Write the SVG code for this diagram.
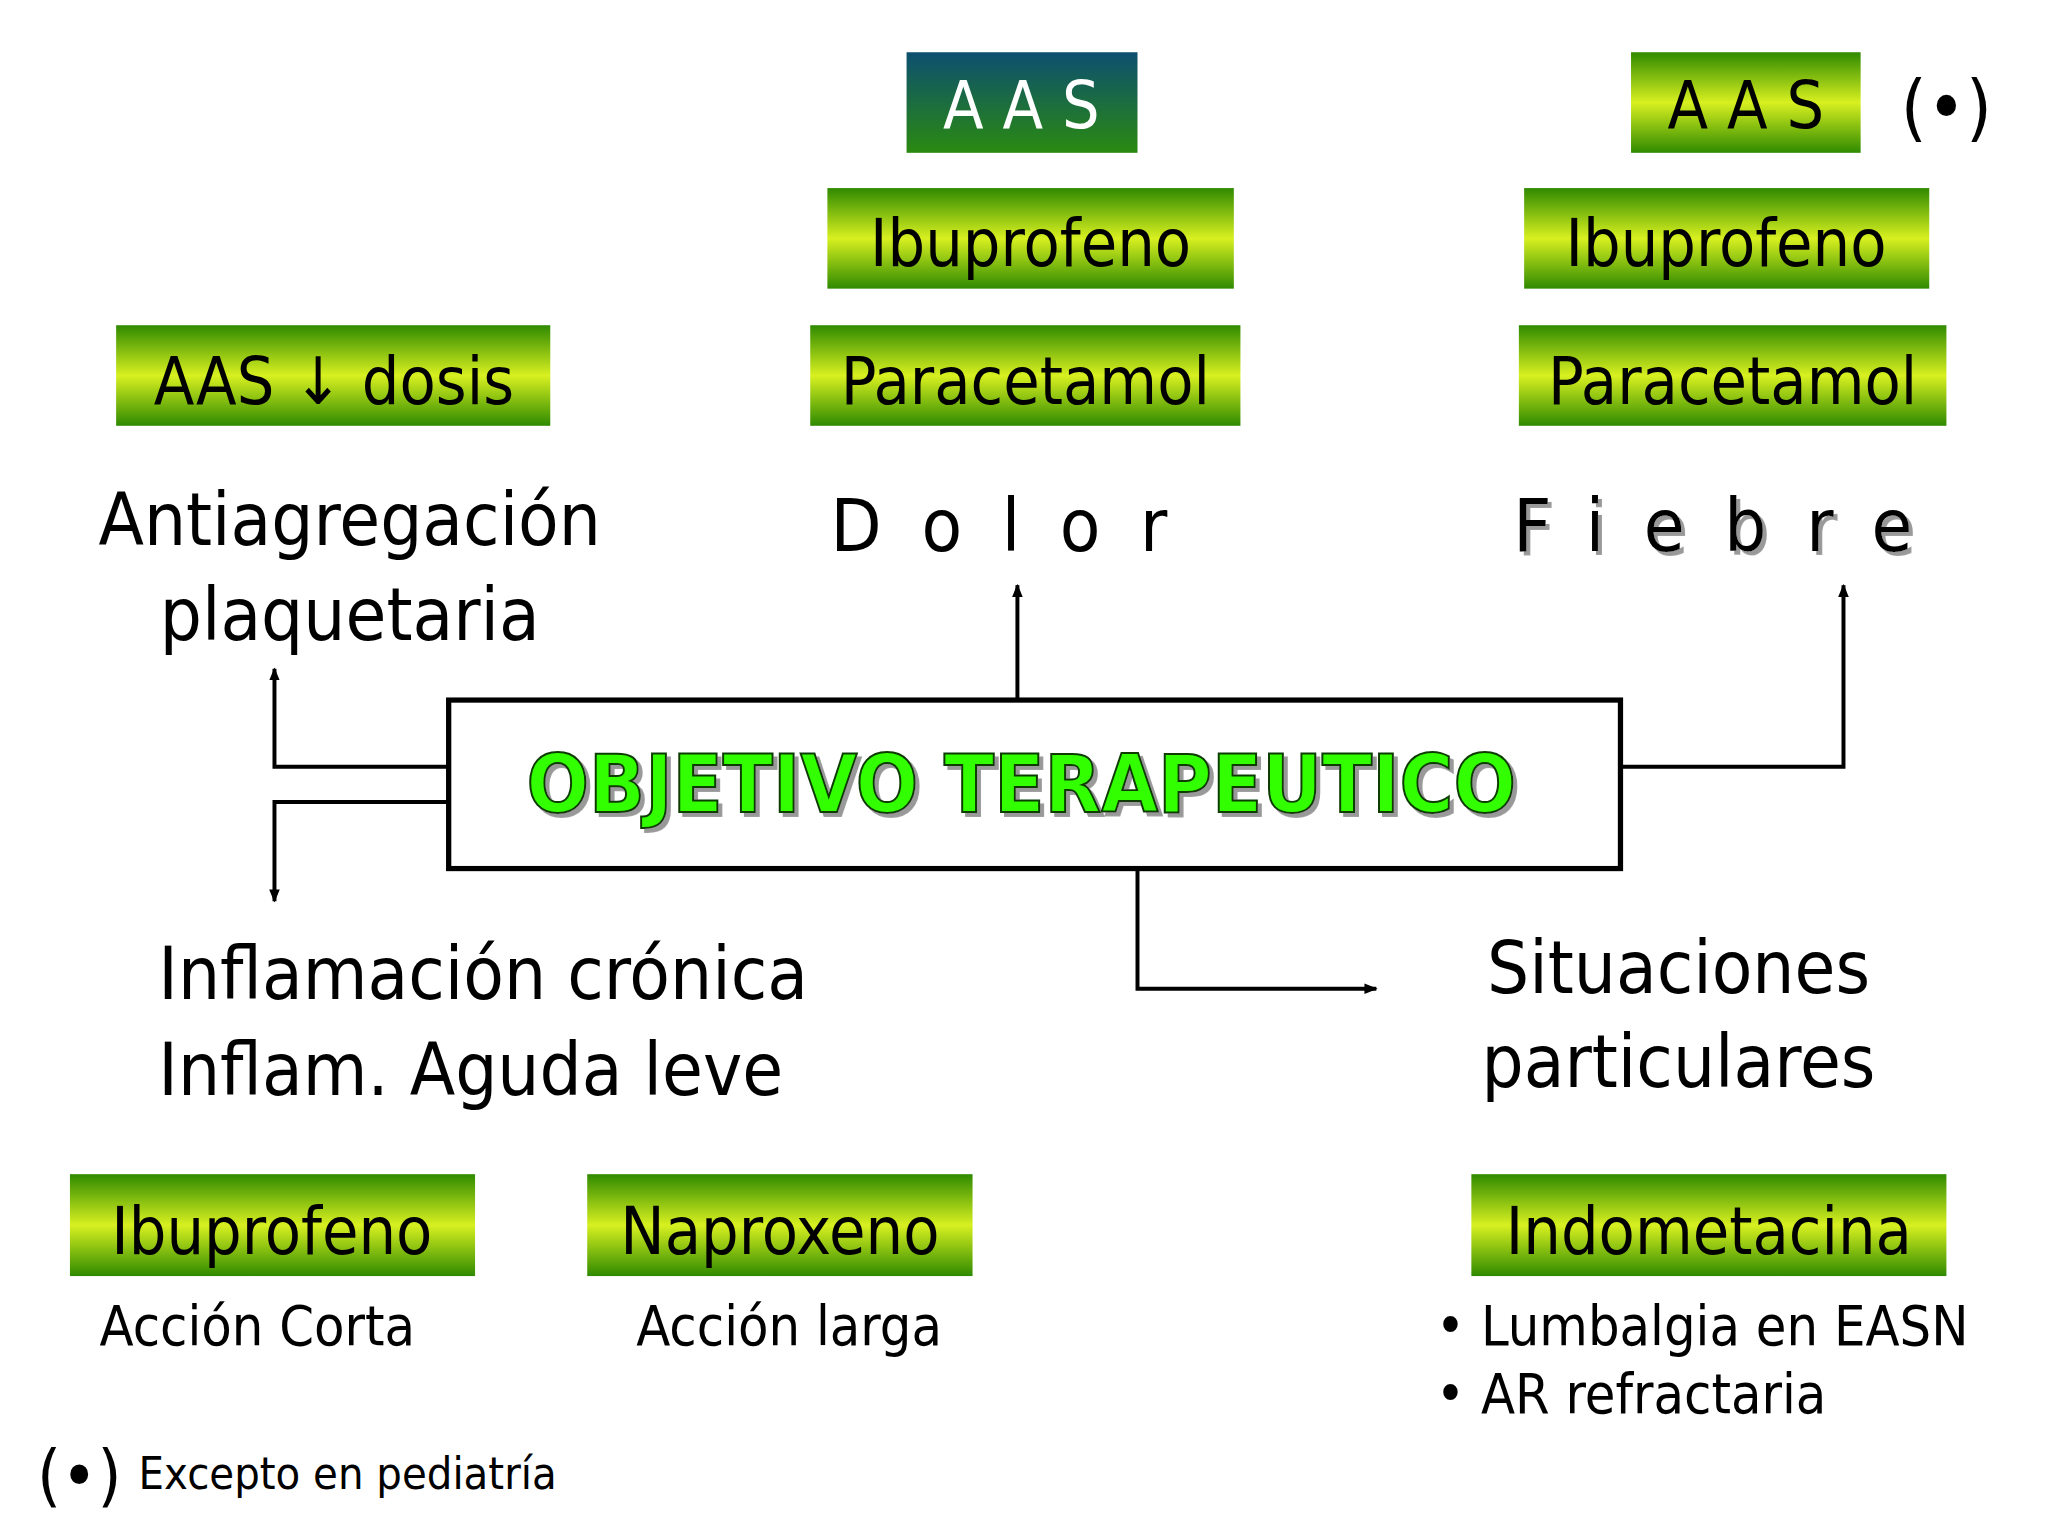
<svg xmlns="http://www.w3.org/2000/svg" width="2048" height="1536" viewBox="0 0 2048 1536">
<defs>
<linearGradient id="gg" x1="0" y1="0" x2="0" y2="1"><stop offset="0" stop-color="#2f8a00"/><stop offset="0.5" stop-color="#d8f020"/><stop offset="1" stop-color="#2f8a00"/></linearGradient>
<linearGradient id="gb" x1="0" y1="0" x2="0" y2="1"><stop offset="0" stop-color="#0d4f70"/><stop offset="1" stop-color="#2a8a10"/></linearGradient>
<marker id="ar" viewBox="0 0 10 10" refX="9" refY="5" markerWidth="10" markerHeight="10" markerUnits="userSpaceOnUse" orient="auto"><path d="M0,1 L10,5 L0,9 Z" fill="#000"/></marker>
<filter id="sh"><feDropShadow dx="3" dy="3" stdDeviation="0.5" flood-color="#999"/></filter>
</defs>
<style>
text{font-family:"DejaVu Sans Condensed","DejaVu Sans",sans-serif;fill:#000}
.bx{fill:url(#gg)}
.bt{font-size:50px;text-anchor:middle}
.lb{font-size:56px}
.c{fill:none;stroke:#000;stroke-width:3}
</style>
<rect width="2048" height="1536" fill="#fff"/>
<g transform="scale(1.3196 1.3061)">
<g id="aas1"><rect x="687" y="40" width="175" height="77" fill="url(#gb)"/><text x="774" y="98" class="bt" fill="#fff" style="fill:#fff">A A S</text></g>
<g id="aas2"><rect class="bx" x="1236" y="40" width="174" height="77"/><text x="1323" y="98" class="bt">A A S</text><text x="1475" y="102" font-size="56" text-anchor="middle">(•)</text></g>
<g id="ibu1"><rect class="bx" x="627" y="144" width="308" height="77"/><text x="781" y="204" class="bt">Ibuprofeno</text></g>
<g id="ibu2"><rect class="bx" x="1155" y="144" width="307" height="77"/><text x="1308" y="204" class="bt">Ibuprofeno</text></g>
<g id="par1"><rect class="bx" x="614" y="249" width="326" height="77"/><text x="777" y="309" class="bt">Paracetamol</text></g>
<g id="par2"><rect class="bx" x="1151" y="249" width="324" height="77"/><text x="1313" y="309" class="bt">Paracetamol</text></g>
<g id="aasd"><rect class="bx" x="88" y="249" width="329" height="77"/><text x="253" y="309" class="bt">AAS ↓ dosis</text></g>
<g id="anti"><text x="265" y="417" class="lb" text-anchor="middle">Antiagregación</text><text x="265" y="490" class="lb" text-anchor="middle">plaquetaria</text></g>
<g id="dolor"><text x="772" y="422" class="lb" text-anchor="middle" letter-spacing="30">Dolor</text></g>
<g id="fiebre"><text x="1313" y="422" class="lb" text-anchor="middle" letter-spacing="30" filter="url(#sh)">Fiebre</text></g>
<g id="main"><rect x="340" y="536" width="888" height="129" fill="#fff" stroke="#000" stroke-width="4"/><text x="774" y="622" font-size="62" font-weight="bold" text-anchor="middle" style="fill:#33ff00" stroke="#0a3a00" stroke-width="1.5" filter="url(#sh)">OBJETIVO TERAPEUTICO</text></g>
<g id="connectors">
<path class="c" d="M771,536 V448" marker-end="url(#ar)"/>
<path class="c" d="M1228,587 H1397 V448" marker-end="url(#ar)"/>
<path class="c" d="M340,587 H208 V512" marker-end="url(#ar)"/>
<path class="c" d="M340,614 H208 V690" marker-end="url(#ar)"/>
<path class="c" d="M862,665 V757 H1043" marker-end="url(#ar)"/>
</g>
<g id="infl"><text x="120" y="765" class="lb" font-size="58">Inflamación crónica</text><text x="120" y="838" class="lb" font-size="58">Inflam. Aguda leve</text></g>
<g id="sit"><text x="1272" y="760" class="lb" font-size="58" text-anchor="middle">Situaciones</text><text x="1272" y="832" class="lb" font-size="58" text-anchor="middle">particulares</text></g>
<g id="ibu3"><rect class="bx" x="53" y="899" width="307" height="78"/><text x="206" y="960" class="bt">Ibuprofeno</text><text x="195" y="1030" font-size="42" text-anchor="middle">Acción Corta</text></g>
<g id="nap"><rect class="bx" x="445" y="899" width="292" height="78"/><text x="591" y="960" class="bt">Naproxeno</text><text x="598" y="1030" font-size="42" text-anchor="middle">Acción larga</text></g>
<g id="indo"><rect class="bx" x="1115" y="899" width="360" height="78"/><text x="1295" y="960" class="bt">Indometacina</text><text x="1088" y="1030" font-size="42">• Lumbalgia en EASN</text><text x="1088" y="1082" font-size="42">• AR refractaria</text></g>
<g id="nota"><text x="28" y="1148" font-size="52">(•)</text><text x="105" y="1140" font-size="34">Excepto en pediatría</text></g>
</g>
</svg>
